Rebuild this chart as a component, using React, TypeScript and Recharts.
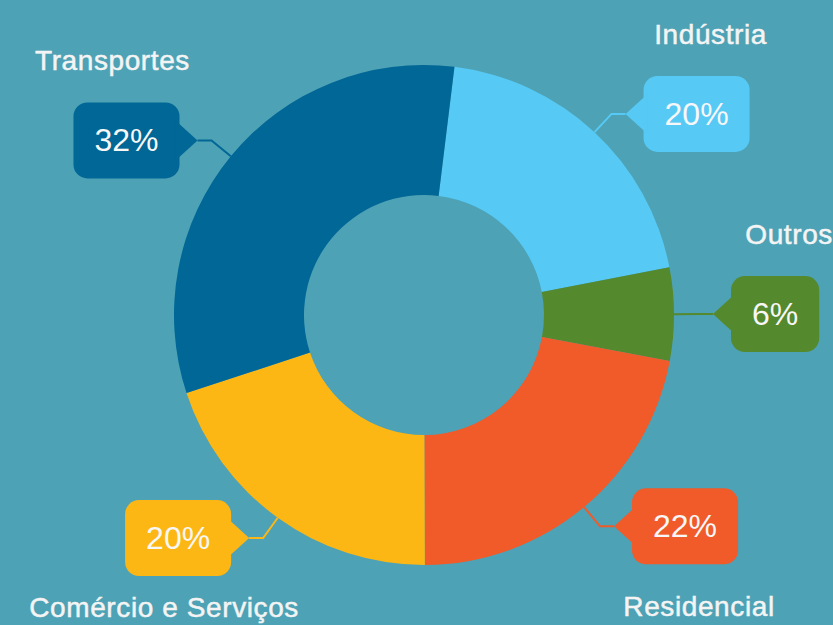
import { PieChart, Pie, Cell } from 'recharts';

const CATEGORIES = ['Indústria', 'Outros', 'Residencial', 'Comércio e Serviços', 'Transportes'];
const SHARES = [20, 6, 22, 20, 32];
const COLORS = ['#56c9f5', '#54892d', '#f15a29', '#fdb714', '#006796'];

const BG = '#4ea2b5';
const FONT = '"Liberation Sans", Arial, sans-serif';
const RADIAN = Math.PI / 180;
const W = 833;
const H = 625;

const data = CATEGORIES.map((name, i) => ({ name, value: SHARES[i] }));

// callout box with pointer + elbow connector, like the original infographic
function Callout(props: any) {
    const { cx, cy, midAngle, outerRadius, index, value, name } = props;
    const color = COLORS[index % COLORS.length];
    const cos = Math.cos(-midAngle * RADIAN);
    const sin = Math.sin(-midAngle * RADIAN);
    const side = cos >= 0 ? 1 : -1;
    const upper = sin <= 0;

    const sx = cx + outerRadius * cos;
    const sy = cy + outerRadius * sin;
    const ex = cx + (outerRadius + 25) * cos;
    const ey = cy + (outerRadius + 25) * sin;
    const tx = ex + side * 14;
    const ty = ey;

    const text = `${value}%`;
    const digits = String(value).length;
    const boxW = (digits * 0.556 + 0.889) * 32 + 42;
    const boxH = 76;
    const edge = tx + side * 18;
    const bx = side > 0 ? edge : edge - boxW;
    const by = ty - boxH / 2;
    const midX = bx + boxW / 2;
    const nameY = upper ? by - 32 : Math.min(by + boxH + 52, H - 8);

    return (
        <g>
            <polyline
                points={`${sx},${sy} ${ex},${ey} ${tx},${ty}`}
                fill="none"
                stroke={color}
                strokeWidth={2}
            />
            <rect x={bx} y={by} width={boxW} height={boxH} rx={14} ry={14} fill={color} />
            <path
                d={`M${edge + side * 4},${ty - 20} L${tx},${ty} L${edge + side * 4},${ty + 20} Z`}
                fill={color}
            />
            <text
                x={midX}
                y={ty}
                textAnchor="middle"
                dominantBaseline="central"
                fill="#f7f7f7"
                fontSize={32}
                fontFamily={FONT}
            >
                {text}
            </text>
            <text
                x={midX + side * 14}
                y={nameY}
                textAnchor="middle"
                fill="#f4f4f4"
                stroke="#f4f4f4"
                strokeWidth={0.5}
                fontSize={28}
                letterSpacing={0.6}
                fontFamily={FONT}
            >
                {name}
            </text>
        </g>
    );
}

export default function App() {
    return (
        <div style={{ position: 'fixed', left: 0, top: 0, width: W, height: H, background: BG }}>
            <PieChart width={W} height={H} margin={{ top: 0, right: 0, bottom: 0, left: 0 }}>
                <Pie
                    data={data}
                    dataKey="value"
                    nameKey="name"
                    cx={424}
                    cy={315}
                    innerRadius={120}
                    outerRadius={250}
                    startAngle={83}
                    endAngle={-277}
                    stroke="none"
                    labelLine={false}
                    label={Callout}
                    isAnimationActive={false}
                >
                    {data.map((entry, index) => (
                        <Cell key={`cell-${index}`} fill={COLORS[index % COLORS.length]} />
                    ))}
                </Pie>
            </PieChart>
        </div>
    );
}
